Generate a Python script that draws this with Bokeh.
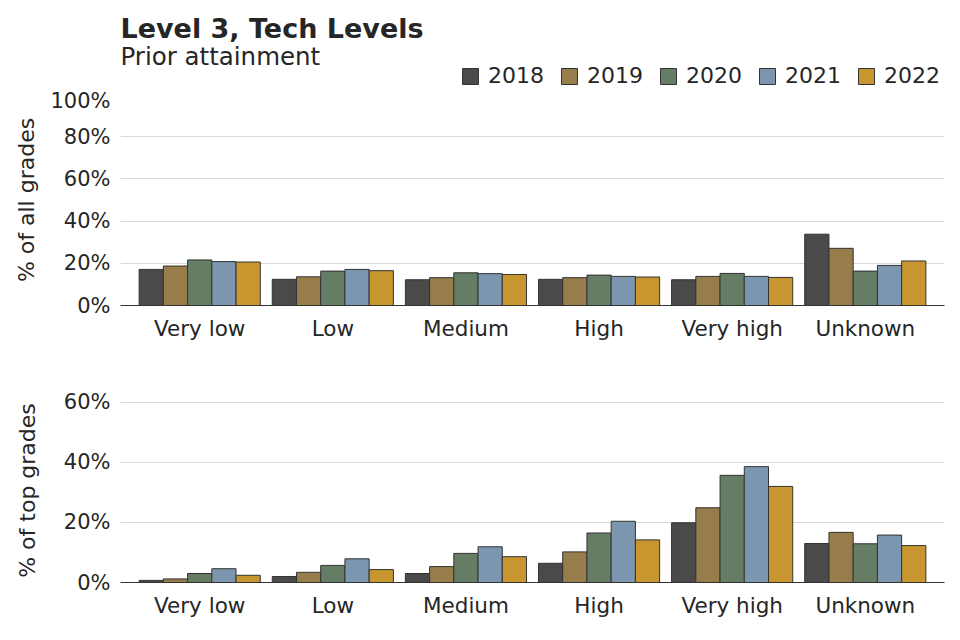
from bokeh.plotting import figure
from bokeh.layouts import column
from bokeh.models import (FactorRange, Range1d, ColumnDataSource, Legend, LegendItem,
                          Label, PrintfTickFormatter, FixedTicker)
from bokeh.transform import dodge
from bokeh.embed import file_html
from bokeh.resources import INLINE

categories = ["Very low", "Low", "Medium", "High", "Very high", "Unknown"]
years = ["2018", "2019", "2020", "2021", "2022"]
colors = ["#4a4a4a", "#967d4b", "#647d64", "#7b96ae", "#c8962f"]

all_2018 = [17.1, 12.4, 12.2, 12.4, 12.2, 33.8]
all_2019 = [18.7, 13.6, 13.2, 13.2, 13.8, 27.1]
all_2020 = [21.6, 16.3, 15.5, 14.4, 15.2, 16.3]
all_2021 = [20.8, 17.1, 15.1, 13.8, 13.8, 19.0]
all_2022 = [20.6, 16.5, 14.7, 13.5, 13.3, 21.1]

top_2018 = [0.7, 2.0, 3.0, 6.4, 19.9, 13.0]
top_2019 = [1.2, 3.4, 5.3, 10.2, 24.9, 16.7]
top_2020 = [3.0, 5.7, 9.7, 16.5, 35.7, 12.9]
top_2021 = [4.6, 7.9, 11.9, 20.4, 38.6, 15.8]
top_2022 = [2.4, 4.3, 8.6, 14.2, 32.0, 12.3]

title_text = "Level 3, Tech Levels"
subtitle_text = "Prior attainment"

FONT = "DejaVu Sans"
TXT = "#262626"
bar_w = 0.182
offsets = [-2 * bar_w, -bar_w, 0.0, bar_w, 2 * bar_w]


def make_fig(data, ymax, yticks, ylabel, frame_h, top_border, bottom_border, label_standoff):
    p = figure(x_range=FactorRange(*categories, range_padding=0.095, range_padding_units="absolute"),
               y_range=Range1d(0, ymax), frame_width=824, frame_height=frame_h,
               min_border_left=120, min_border_right=8, min_border_top=top_border,
               min_border_bottom=bottom_border, output_backend="svg", toolbar_location=None,
               title=None)
    p.outline_line_color = None
    src = ColumnDataSource(dict(cat=categories, **{y: v for y, v in zip(years, data)}))
    for y, c, off in zip(years, colors, offsets):
        p.vbar(x=dodge("cat", off, range=p.x_range), top=y, width=bar_w, source=src,
               fill_color=c, line_color="#333333", line_width=1)
    p.xgrid.grid_line_color = None
    p.ygrid.grid_line_color = "#d9d9d9"
    p.ygrid.grid_line_width = 1
    p.yaxis.ticker = FixedTicker(ticks=yticks)
    p.yaxis.formatter = PrintfTickFormatter(format="%d%%")
    p.yaxis.axis_line_color = None
    p.yaxis.major_tick_line_color = None
    p.yaxis.minor_tick_line_color = None
    p.yaxis.major_label_text_font = FONT
    p.yaxis.major_label_text_font_size = "21px"
    p.yaxis.major_label_text_color = TXT
    p.yaxis.major_label_standoff = 4
    p.yaxis.axis_label = ylabel
    p.yaxis.axis_label_text_font = FONT
    p.yaxis.axis_label_text_font_size = "22px"
    p.yaxis.axis_label_text_font_style = "normal"
    p.yaxis.axis_label_text_color = TXT
    p.yaxis.axis_label_standoff = label_standoff
    p.xaxis.axis_line_color = "#333333"
    p.xaxis.axis_line_width = 1
    p.xaxis.major_tick_line_color = None
    p.xaxis.minor_tick_line_color = None
    p.xaxis.major_label_text_font = FONT
    p.xaxis.major_label_text_font_size = "21.5px"
    p.xaxis.major_label_text_color = TXT
    p.xaxis.major_label_standoff = 4
    return p


# header: title, subtitle and legend (its frame lines up with the plots' frames)
header = figure(x_range=Range1d(0, 824), y_range=Range1d(0, 88), frame_width=824, height=88,
                min_border_left=120, min_border_right=8, min_border_top=0, min_border_bottom=0,
                x_axis_location=None, y_axis_location=None,
                output_backend="svg", toolbar_location=None, title=None)
header.grid.visible = False
header.outline_line_color = None
header.add_layout(Label(x=0, y=60, text=title_text, text_font=FONT, text_font_size="27px",
                        text_font_style="bold", text_color=TXT, text_baseline="middle"))
header.add_layout(Label(x=0, y=32, text=subtitle_text, text_font=FONT, text_font_size="24.5px",
                        text_color=TXT, text_baseline="middle"))
# legend keys: one off-range swatch per year, so the legend can draw its boxes
leg_src = ColumnDataSource(dict(x=[-1000], top=[0]))
leg_rs = [header.vbar(x="x", top="top", width=1, source=leg_src, fill_color=c,
                      line_color="#333333") for c in colors]
legend = Legend(items=[LegendItem(label=y, renderers=[r]) for y, r in zip(years, leg_rs)],
                orientation="horizontal", location=(340, 0),
                glyph_width=20, glyph_height=20, label_standoff=8, spacing=15,
                padding=0, margin=0, border_line_color=None, background_fill_alpha=0,
                label_text_font=FONT, label_text_font_size="22px", label_text_color=TXT)
header.add_layout(legend)

p1 = make_fig([all_2018, all_2019, all_2020, all_2021, all_2022], 100,
              [0, 20, 40, 60, 80, 100], "% of all grades", 211, 6, 55, 8)
p2 = make_fig([top_2018, top_2019, top_2020, top_2021, top_2022], 61.3,
              [0, 20, 40, 60], "% of top grades", 184, 38, 50, 21)

layout = column(header, p1, p2, spacing=0)
open("out.html", "w").write(file_html(layout, INLINE))
